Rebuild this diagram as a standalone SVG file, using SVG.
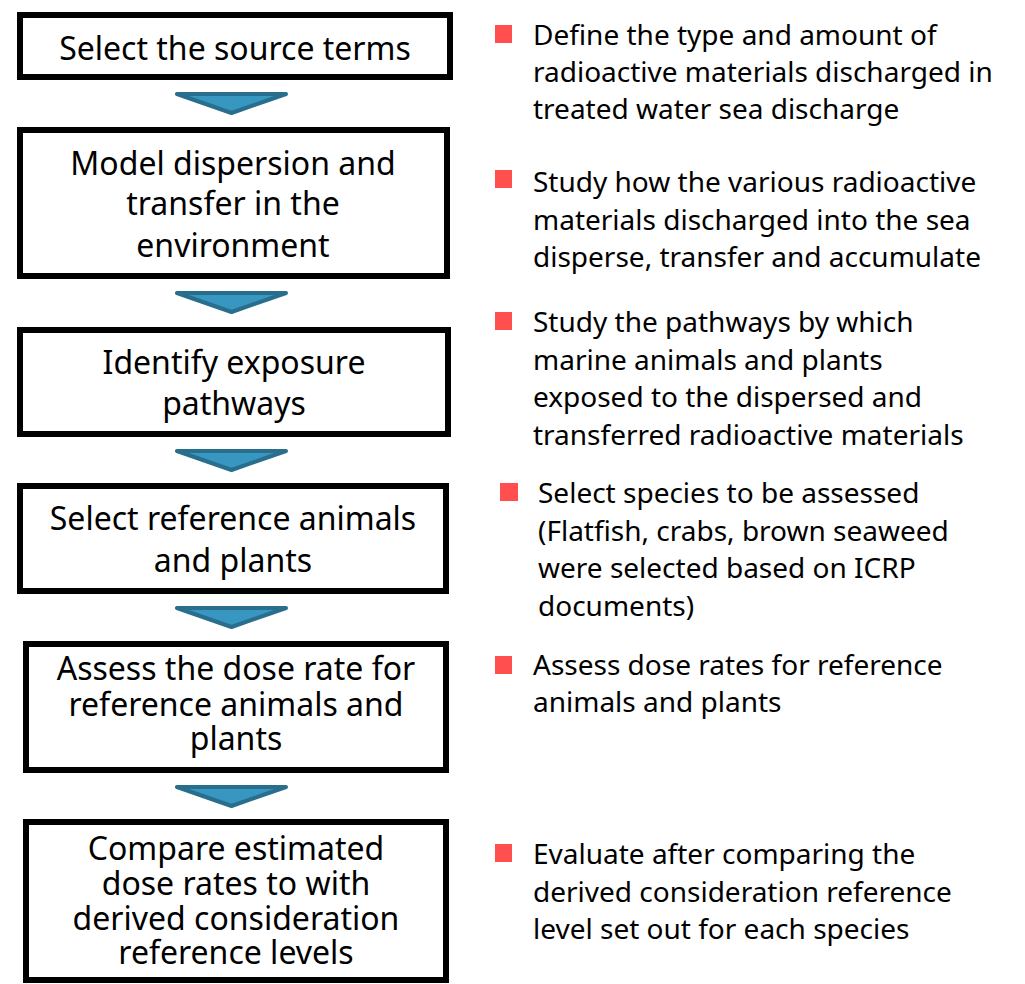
<svg xmlns="http://www.w3.org/2000/svg" width="1025" height="984" viewBox="0 0 1025 984">
<style>
.box{fill:#fff;stroke:#000;stroke-width:6}
.bt{font-family:"Noto Sans","Open Sans",sans-serif;font-size:32px;fill:#000;text-anchor:middle}
.rt{font-family:"Noto Sans","Open Sans",sans-serif;font-size:28px;fill:#000}
.bul{fill:#FF4F4F}
.arr{fill:#3897C1;stroke:#2A6E8E;stroke-width:4;stroke-linejoin:round}
</style>
<rect width="1025" height="984" fill="#fff"/>
<g id="connectors">
<path class="arr" d="M177,94 L286,94 L231.5,113 Z"/>
<path class="arr" d="M177,293 L286,293 L231.5,312 Z"/>
<path class="arr" d="M177,451 L286,451 L231.5,470 Z"/>
<path class="arr" d="M177,608 L286,608 L231.5,627 Z"/>
<path class="arr" d="M177,787 L286,787 L231.5,806 Z"/>
</g>
<g id="n1"><rect class="box" x="20" y="15" width="430" height="62"/><text class="bt" x="235" y="60">Select the source terms</text></g>
<g id="n2"><rect class="box" x="20" y="130" width="427" height="146"/><text class="bt" x="233" y="175">Model dispersion and</text><text class="bt" x="233" y="215">transfer in the</text><text class="bt" x="233" y="257">environment</text></g>
<g id="n3"><rect class="box" x="20" y="330" width="428" height="104"/><text class="bt" x="234" y="374">Identify exposure</text><text class="bt" x="234" y="415">pathways</text></g>
<g id="n4"><rect class="box" x="20" y="486" width="426" height="105"/><text class="bt" x="233" y="530">Select reference animals</text><text class="bt" x="233" y="572">and plants</text></g>
<g id="n5"><rect class="box" x="26" y="644" width="420" height="126"/><text class="bt" x="236" y="680">Assess the dose rate for</text><text class="bt" x="236" y="716">reference animals and</text><text class="bt" x="236" y="750">plants</text></g>
<g id="n6"><rect class="box" x="26" y="822" width="420" height="158"/><text class="bt" x="236" y="860">Compare estimated</text><text class="bt" x="236" y="895">dose rates to with</text><text class="bt" x="236" y="930">derived consideration</text><text class="bt" x="236" y="964">reference levels</text></g>
<g id="d1"><rect class="bul" x="495" y="25" width="17" height="18"/><text class="rt" x="533" y="45">Define the type and amount of</text><text class="rt" x="533" y="82">radioactive materials discharged in</text><text class="rt" x="533" y="119">treated water sea discharge</text></g>
<g id="d2"><rect class="bul" x="495" y="170" width="17" height="18"/><text class="rt" x="533" y="192">Study how the various radioactive</text><text class="rt" x="533" y="230">materials discharged into the sea</text><text class="rt" x="533" y="267">disperse, transfer and accumulate</text></g>
<g id="d3"><rect class="bul" x="495" y="312" width="17" height="18"/><text class="rt" x="533" y="332">Study the pathways by which</text><text class="rt" x="533" y="370">marine animals and plants</text><text class="rt" x="533" y="407">exposed to the dispersed and</text><text class="rt" x="533" y="445">transferred radioactive materials</text></g>
<g id="d4"><rect class="bul" x="500" y="483" width="18" height="18"/><text class="rt" x="538" y="503">Select species to be assessed</text><text class="rt" x="538" y="541">(Flatfish, crabs, brown seaweed</text><text class="rt" x="538" y="578">were selected based on ICRP</text><text class="rt" x="538" y="616">documents)</text></g>
<g id="d5"><rect class="bul" x="495" y="656" width="17" height="18"/><text class="rt" x="533" y="675">Assess dose rates for reference</text><text class="rt" x="533" y="712">animals and plants</text></g>
<g id="d6"><rect class="bul" x="495" y="844" width="17" height="18"/><text class="rt" x="533" y="864">Evaluate after comparing the</text><text class="rt" x="533" y="902">derived consideration reference</text><text class="rt" x="533" y="939">level set out for each species</text></g>
</svg>
